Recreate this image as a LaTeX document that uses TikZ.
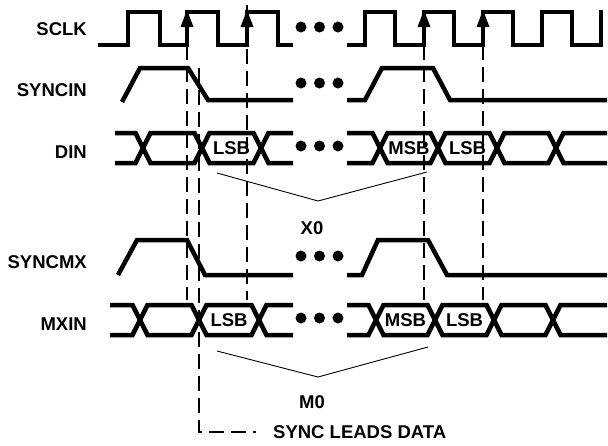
\documentclass[tikz,border=0pt]{standalone}
\usepackage{fontspec}
\setmainfont{Liberation Sans}
\begin{document}
\begin{tikzpicture}[x=1pt,y=-1pt,
  wave/.style={line width=4.5pt, line join=miter},
  dline/.style={line width=2pt, dash pattern=on 15pt off 7pt},
  thinl/.style={line width=0.9pt},
  lbl/.style={font=\fontsize{18.5}{18.5}\selectfont\bfseries, inner sep=0pt, anchor=east},
  bit/.style={font=\fontsize{18.5}{18.5}\selectfont\bfseries, inner sep=0pt},
  dot/.style={circle, fill=black, inner sep=0pt, minimum size=11pt}]
\useasboundingbox (0,0) rectangle (608,445);

% labels
\node[lbl] (lsclk) at (87,29) {SCLK};
\node[lbl] (lsyncin) at (87,90) {SYNCIN};
\node[lbl] (ldin) at (87,152) {DIN};
\node[lbl] (lsyncmx) at (87,262) {SYNCMX};
\node[lbl] (lmxin) at (87,324) {MXIN};

% dashed guide lines
\coordinate (d1t) at (187,45);  \coordinate (d1b) at (187,300);
\coordinate (d2t) at (247,5);   \coordinate (d2b) at (247,300);
\coordinate (d3t) at (424,45);  \coordinate (d3b) at (424,300);
\coordinate (d4t) at (483,45);  \coordinate (d4b) at (483,300);
\coordinate (s1) at (199,68); \coordinate (s2) at (199,432); \coordinate (s3) at (256,432);
\draw[dline] (d1t) -- (d1b);
\draw[dline] (d2t) -- (d2b);
\draw[dline] (d3t) -- (d3b);
\draw[dline] (d4t) -- (d4b);
\draw[dline] (s1) -- (s2) -- (s3);

% SCLK
\draw[wave] (98,45) -- (128,45) -- (128,12) -- (160,12) -- (160,45) -- (187,45) -- (187,12) -- (218,12) -- (218,45) -- (247,45) -- (247,12) -- (278,12) -- (278,45) -- (293,45);
\draw[wave] (347,45) -- (365,45) -- (365,12) -- (395,12) -- (395,45) -- (424,45) -- (424,12) -- (454,12) -- (454,45) -- (483,45) -- (483,12) -- (513,12) -- (513,45) -- (542,45) -- (542,12) -- (572,12) -- (572,45) -- (601,45) -- (601,10);
\foreach \ax in {187,247,424,483}
  \fill (\ax,10) -- (\ax-6.5,27) -- (\ax+6.5,27) -- cycle;

% SYNCIN
\draw[wave] (122,102) -- (140,68) -- (188,68) -- (208,100) -- (293,100);
\draw[wave] (347,100) -- (365,100) -- (382,68) -- (433,68) -- (450,100) -- (607,100);

% DIN
\draw[wave] (115,133) -- (135.5,133) -- (150.5,163) -- (194.5,163) -- (209.5,133) -- (253.5,133) -- (268.5,163) -- (293,163);
\draw[wave] (115,163) -- (135.5,163) -- (150.5,133) -- (194.5,133) -- (209.5,163) -- (253.5,163) -- (268.5,133) -- (293,133);
\draw[wave] (347,133) -- (372.5,133) -- (387.5,163) -- (430.5,163) -- (445.5,133) -- (489.5,133) -- (504.5,163) -- (548.5,163) -- (563.5,133) -- (607,133);
\draw[wave] (347,163) -- (372.5,163) -- (387.5,133) -- (430.5,133) -- (445.5,163) -- (489.5,163) -- (504.5,133) -- (548.5,133) -- (563.5,163) -- (607,163);
\node[bit] (dinlsb1) at (231.5,148) {LSB};
\node[bit] (dinmsb) at (409,148) {MSB};
\node[bit] (dinlsb2) at (467.5,148) {LSB};

% SYNCMX
\draw[wave] (118,275) -- (137,240) -- (187,240) -- (205,275) -- (293,275);
\draw[wave] (347,275) -- (362,275) -- (378,240) -- (428,240) -- (447,275) -- (607,275);

% MXIN
\draw[wave] (110,305) -- (132.5,305) -- (147.5,335) -- (191.5,335) -- (206.5,305) -- (251.5,305) -- (266.5,335) -- (293,335);
\draw[wave] (110,335) -- (132.5,335) -- (147.5,305) -- (191.5,305) -- (206.5,335) -- (251.5,335) -- (266.5,305) -- (293,305);
\draw[wave] (347,305) -- (368.5,305) -- (383.5,335) -- (427.5,335) -- (442.5,305) -- (486.5,305) -- (501.5,335) -- (545.5,335) -- (560.5,305) -- (607,305);
\draw[wave] (347,335) -- (368.5,335) -- (383.5,305) -- (427.5,305) -- (442.5,335) -- (486.5,335) -- (501.5,305) -- (545.5,305) -- (560.5,335) -- (607,335);
\node[bit] (mxlsb1) at (229,320) {LSB};
\node[bit] (mxmsb) at (405.5,320) {MSB};
\node[bit] (mxlsb2) at (464.5,320) {LSB};

% dots
\foreach \ry/\nm in {27/a,83/b,146/c,256/d,318/e} {
  \node[dot] (\nm1) at (301,\ry) {};
  \node[dot] (\nm2) at (319.5,\ry) {};
  \node[dot] (\nm3) at (338,\ry) {};
}

% brackets
\coordinate (x0l) at (217,173); \coordinate (x0m) at (318,201); \coordinate (x0r) at (427,172);
\draw[thinl] (x0l) -- (x0m) -- (x0r);
\node[bit] (x0) at (312,228) {X0};
\coordinate (m0l) at (217,351); \coordinate (m0m) at (318,377); \coordinate (m0r) at (428,347);
\draw[thinl] (m0l) -- (m0m) -- (m0r);
\node[bit] (m0) at (312,402) {M0};

\node[bit, anchor=west] (sld) at (273,432) {SYNC LEADS DATA};
\end{tikzpicture}
\end{document}
